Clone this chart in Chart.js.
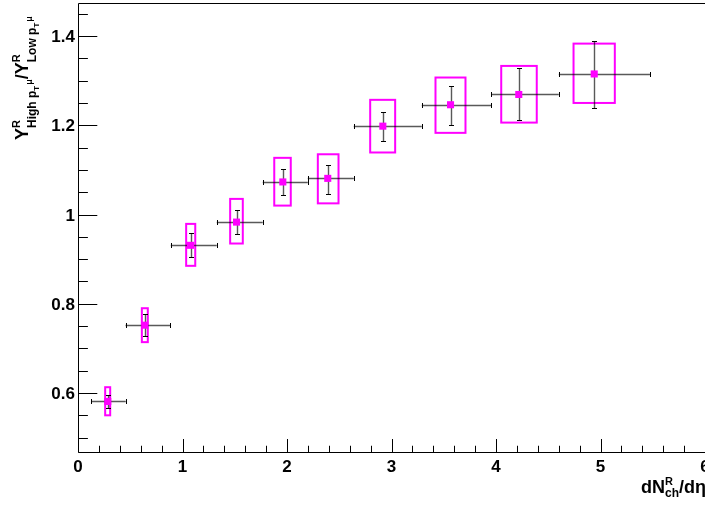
<!DOCTYPE html>
<html><head><meta charset="utf-8">
<script src="https://cdn.jsdelivr.net/npm/chart.js@4/dist/chart.umd.min.js"></script>
<style>html,body{margin:0;padding:0;background:#fff}#wrap{width:705px;height:507px;position:relative}</style>
</head><body><div id="wrap"><canvas id="c" width="705" height="507"></canvas></div>
<script>
// ---- data ----
const xValues   = [0.285,0.639,1.077,1.517,1.960,2.390,2.917,3.565,4.218,4.940];
const yValues   = [0.581,0.752,0.931,0.983,1.073,1.081,1.198,1.246,1.269,1.315];
const xLow      = [0.126,0.455,0.888,1.328,1.768,2.199,2.639,3.290,3.954,4.601];
const xHigh     = [0.457,0.885,1.328,1.768,2.199,2.639,3.290,3.954,4.601,5.476];
const yStatLow  = [0.567,0.728,0.904,0.956,1.043,1.047,1.165,1.201,1.211,1.238];
const yStatHigh = [0.596,0.776,0.958,1.011,1.103,1.112,1.230,1.289,1.328,1.389];
const sysXLow   = [0.260,0.611,1.035,1.456,1.878,2.295,2.796,3.421,4.050,4.742];
const sysXHigh  = [0.308,0.668,1.122,1.577,2.036,2.493,3.035,3.708,4.390,5.137];
const sysYLow   = [0.550,0.714,0.885,0.935,1.020,1.025,1.139,1.183,1.206,1.250];
const sysYHigh  = [0.613,0.790,0.979,1.035,1.127,1.135,1.257,1.307,1.333,1.383];
const xTickValues = [0,1,2,3,4,5,6];
const xTickLabels = ['0','1','2','3','4','5','6'];
const yTickValues = [0.6,0.8,1.0,1.2,1.4];
const yTickLabels = ['0.6','0.8','1','1.2','1.4'];
const xMinorStep = 0.2, yMinorStep = 0.05;

const FONT = '"Liberation Sans", Arial, Helvetica, sans-serif';
const MAGENTA = '#ff00ff';

function rich(ctx, node, x, y, draw) {
  if (Array.isArray(node)) { let w = 0; for (const n of node) w += rich(ctx, n, x + w, y, draw); return w; }
  if (node.stack) { let m = 0; for (const n of node.stack) m = Math.max(m, rich(ctx, n, x, y, draw)); return m; }
  ctx.font = 'bold ' + node.size + 'px ' + FONT;
  if (draw) ctx.fillText(node.t, x, y + node.dy);
  return ctx.measureText(node.t).width + (node.gap || 0);
}
const yTitle = [
  {t:'Y', size:18, dy:0},
  {stack:[{t:'R', size:11, dy:-8}, [{t:'High p', size:12, dy:8}, {t:'T', size:8, dy:11, gap:1}, {t:'\u03BC', size:9, dy:4}]]},
  {t:'/Y', size:18, dy:0},
  {stack:[{t:'R', size:11, dy:-8}, [{t:'Low p', size:12, dy:8}, {t:'T', size:8, dy:11, gap:1}, {t:'\u03BC', size:9, dy:4}]]}
];
const xTitle = [
  {t:'dN', size:18, dy:0},
  {stack:[{t:'R', size:11, dy:-8}, {t:'ch', size:12, dy:4}]},
  {t:'/d\u03B7', size:18, dy:0}
];

const rootPlugin = {
  id: 'rootStyle',
  beforeDatasetsDraw(chart) {
    const {ctx, scales:{x, y}} = chart;
    ctx.save();
    ctx.strokeStyle = MAGENTA; ctx.lineWidth = 2;
    for (let i = 0; i < xValues.length; i++) {
      const x0 = x.getPixelForValue(sysXLow[i]), x1 = x.getPixelForValue(sysXHigh[i]);
      const y0 = y.getPixelForValue(sysYHigh[i]), y1 = y.getPixelForValue(sysYLow[i]);
      ctx.strokeRect(x0, y0, x1 - x0, y1 - y0);
    }
    for (let i = 0; i < xValues.length; i++) {
      const px = Math.round(x.getPixelForValue(xValues[i])) + 0.5;
      const py = Math.round(y.getPixelForValue(yValues[i])) + 0.5;
      const xl = x.getPixelForValue(xLow[i]), xh = x.getPixelForValue(xHigh[i]);
      const yl = Math.round(y.getPixelForValue(yStatLow[i])) + 0.5, yh = Math.round(y.getPixelForValue(yStatHigh[i])) + 0.5;
      ctx.strokeStyle = 'rgba(0,0,0,0.65)'; ctx.lineWidth = 1.4;
      ctx.beginPath(); ctx.moveTo(xl, py); ctx.lineTo(xh, py); ctx.moveTo(px, yl); ctx.lineTo(px, yh); ctx.stroke();
      ctx.strokeStyle = '#000'; ctx.lineWidth = 1;
      ctx.beginPath();
      ctx.moveTo(Math.round(xl) + 0.5, py - 2.5); ctx.lineTo(Math.round(xl) + 0.5, py + 2.5);
      ctx.moveTo(Math.round(xh) + 0.5, py - 2.5); ctx.lineTo(Math.round(xh) + 0.5, py + 2.5);
      ctx.moveTo(px - 2.5, yl); ctx.lineTo(px + 2.5, yl);
      ctx.moveTo(px - 2.5, yh); ctx.lineTo(px + 2.5, yh);
      ctx.stroke();
    }
    ctx.restore();
  },
  afterDraw(chart) {
    const {ctx, chartArea:a, scales:{x, y}} = chart;
    ctx.save();
    ctx.strokeStyle = '#000'; ctx.lineWidth = 1;
    const L = Math.round(a.left) + 0.5, B = Math.round(a.bottom) + 0.5, T = Math.round(a.top) + 0.5, R = Math.round(a.right) + 0.5;
    ctx.beginPath();
    ctx.moveTo(R, T); ctx.lineTo(L, T); ctx.lineTo(L, B); ctx.lineTo(R, B);
    ctx.stroke();
    const yMaj = 0.03 * (a.right - a.left), xMaj = 0.03 * (a.bottom - a.top);
    ctx.beginPath();
    const y0 = Math.ceil(y.min / yMinorStep - 1e-6);
    for (let k = y0; k * yMinorStep <= y.max + 1e-9; k++) {
      const v = k * yMinorStep;
      const major = Math.abs(v / 0.2 - Math.round(v / 0.2)) < 1e-6;
      const py = Math.round(y.getPixelForValue(v)) + 0.5;
      ctx.moveTo(L, py); ctx.lineTo(L + (major ? yMaj : yMaj / 2), py);
    }
    for (let k = 0; k * xMinorStep <= x.max + 1e-9; k++) {
      const v = k * xMinorStep;
      const major = Math.abs(v - Math.round(v)) < 1e-6;
      const px = Math.round(x.getPixelForValue(v)) + 0.5;
      ctx.moveTo(px, B); ctx.lineTo(px, B - (major ? xMaj : xMaj / 2));
    }
    ctx.stroke();
    ctx.fillStyle = '#000';
    ctx.font = 'bold 17px ' + FONT;
    ctx.textBaseline = 'alphabetic';
    ctx.textAlign = 'center';
    xTickValues.forEach((v, i) => ctx.fillText(xTickLabels[i], x.getPixelForValue(v), 472));
    ctx.textAlign = 'right';
    yTickValues.forEach((v, i) => ctx.fillText(yTickLabels[i], 75, y.getPixelForValue(v) + 6));
    ctx.textAlign = 'left';
    const wx = rich(ctx, xTitle, 0, 0, false);
    rich(ctx, xTitle, 705 - wx + 1, 493, true);
    ctx.save();
    ctx.translate(28, 140); ctx.rotate(-Math.PI / 2);
    rich(ctx, yTitle, 0, 0, true);
    ctx.restore();
    ctx.restore();
  }
};

new Chart(document.getElementById('c').getContext('2d'), {
  type: 'scatter',
  data: { datasets: [{
    data: xValues.map((v, i) => ({x: v, y: yValues[i]})),
    pointStyle: 'rect', pointRadius: 5, pointHoverRadius: 5,
    backgroundColor: MAGENTA, borderColor: MAGENTA, borderWidth: 0, clip: false
  }]},
  options: {
    responsive: false, animation: false, devicePixelRatio: 1,
    layout: { autoPadding: false, padding: { top: 3, right: 0, left: 0, bottom: 0 } },
    plugins: { legend: { display: false }, tooltip: { enabled: false } },
    scales: {
      x: {
        type: 'linear', min: 0, max: 6,
        grid: { display: false, drawTicks: false }, border: { display: false },
        ticks: { display: false },
        afterFit: s => { s.height = 55; }
      },
      y: {
        type: 'linear', min: 0.4678, max: 1.474,
        grid: { display: false, drawTicks: false }, border: { display: false },
        ticks: { display: false },
        afterFit: s => { s.width = 78; }
      }
    }
  },
  plugins: [rootPlugin]
});
</script>
</body></html>
